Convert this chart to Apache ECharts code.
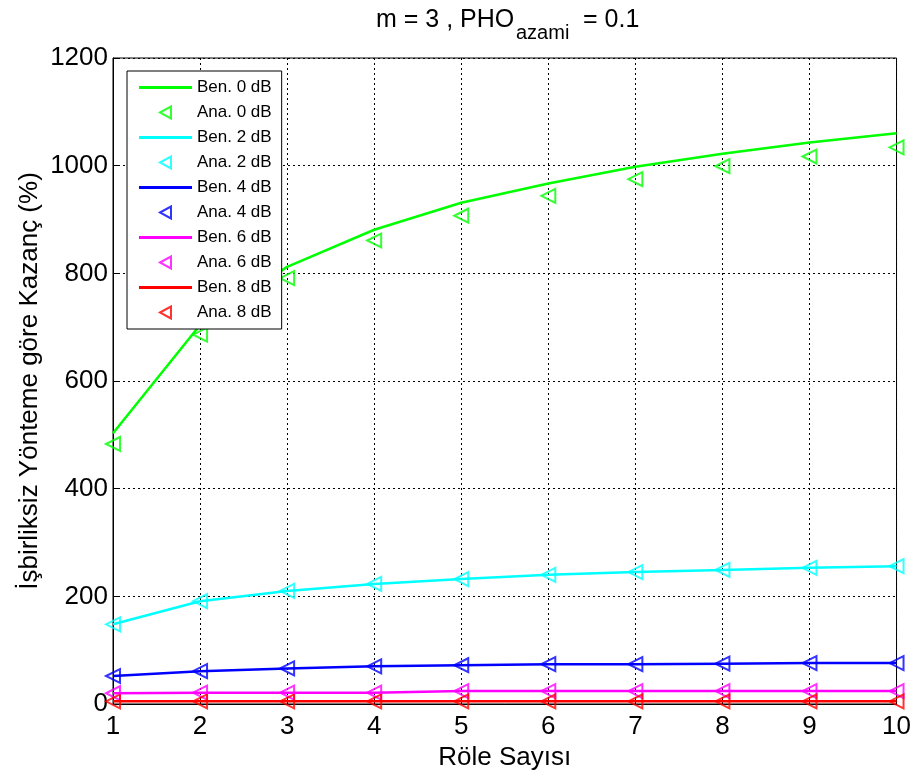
<!DOCTYPE html>
<html lang="en">
<head>
    <meta charset="UTF-8">
    <title>m = 3, PHO azami = 0.1</title>
    <script src="https://cdn.jsdelivr.net/npm/echarts@6/dist/echarts.min.js"></script>
</head>
<body style="margin: 0">
<div id="chart" style="width: 914px;height: 780px"></div>
</body>

<script>
    // x = number of relays
    let relays = [1, 2, 3, 4, 5, 6, 7, 8, 9, 10];
    let yTicks = [0, 200, 400, 600, 800, 1000, 1200];

    // simulation (Ben.) and analysis (Ana.) per SNR
    let ben0 = [503, 704, 812, 881, 931, 967, 998, 1022, 1043, 1060];
    let ana0 = [483, 686, 791, 861, 907, 944, 975, 999, 1017, 1034];
    let ben2 = [148, 191, 210, 223, 232, 240, 245, 249, 253, 256];
    let ana2 = [148, 191, 210, 223, 232, 240, 245, 249, 253, 256];
    let ben4 = [52, 61, 66, 70, 72, 74, 74, 75, 76, 76];
    let ana4 = [52, 61, 66, 70, 72, 74, 74, 75, 76, 76];
    let ben6 = [20, 21, 21, 21, 24, 24, 24, 24, 24, 24];
    let ana6 = [20, 21, 21, 21, 24, 24, 24, 24, 24, 24];
    let ben8 = [5, 5, 5, 5, 5, 5, 5, 5, 5, 5];
    let ana8 = [5, 5, 5, 5, 5, 5, 5, 5, 5, 5];

    let groups = [
        {db: '0', ben: ben0, ana: ana0, color: '#00ff00'},
        {db: '2', ben: ben2, ana: ana2, color: '#00ffff'},
        {db: '4', ben: ben4, ana: ana4, color: '#0000ff'},
        {db: '6', ben: ben6, ana: ana6, color: '#ff00ff'},
        {db: '8', ben: ben8, ana: ana8, color: '#ff0000'}
    ];

    let font = 'Liberation Sans, Arial, sans-serif';
    let lineIcon = 'path://M0,0 L53,0 L53,3 L0,3 Z';
    let triIcon = 'path://M0,6 L11,0 L11,12 Z';
    let series = [];
    let legendData = [];
    for (const g of groups) {
        series.push({
            name: 'Ben. ' + g.db + ' dB',
            type: 'line',
            symbol: 'none',
            color: g.color,
            itemStyle: {color: g.color},
            lineStyle: {color: g.color, width: 2.5},
            data: relays.map((x, i) => [x, g.ben[i]])
        });
        legendData.push({name: 'Ben. ' + g.db + ' dB', icon: lineIcon});
        series.push({
            name: 'Ana. ' + g.db + ' dB',
            type: 'scatter',
            symbol: 'triangle',
            symbolSize: 14,
            symbolRotate: 90,
            color: g.color,
            itemStyle: {color: 'rgba(255,255,255,0)', borderColor: g.color, borderWidth: 2},
            data: relays.map((x, i) => [x, g.ana[i]])
        });
        legendData.push({name: 'Ana. ' + g.db + ' dB', icon: triIcon});
    }

    // title split in three pieces so that "azami" sits as a subscript
    let titleStyle = {fontFamily: font, fontSize: 25, fontWeight: 'normal', color: '#000'};
    let subStyle = {fontFamily: font, fontSize: 20, fontWeight: 'normal', color: '#000'};

    let chart = echarts.init(document.getElementById('chart'));
    chart.setOption({
        backgroundColor: '#fff',
        animation: false,
        textStyle: {fontFamily: font},
        title: [
            {text: 'm = 3 , PHO', left: 376, top: 8, padding: 0, textStyle: titleStyle},
            {text: 'azami', left: 516, top: 23, padding: 0, textStyle: subStyle},
            {text: '= 0.1', left: 583, top: 8, padding: 0, textStyle: titleStyle}
        ],
        legend: {
            orient: 'vertical',
            left: 127,
            top: 71,
            padding: [8, 10, 8, 12],
            itemWidth: 53,
            itemHeight: 12,
            itemGap: 8,
            symbolRotate: 0,
            backgroundColor: '#fff',
            borderColor: '#000',
            borderWidth: 1,
            textStyle: {fontFamily: font, fontSize: 17, color: '#000', lineHeight: 17},
            data: legendData
        },
        grid: {
            left: 113, right: 16, top: 58, bottom: 76,
            show: true, borderColor: '#000', borderWidth: 1
        },
        xAxis: {
            type: 'value',
            min: 1, max: 10, interval: 1,
            name: 'Röle Sayısı',
            nameLocation: 'middle',
            nameGap: 40,
            nameTextStyle: {fontFamily: font, fontSize: 26, color: '#000'},
            axisLine: {lineStyle: {color: '#000'}},
            axisTick: {inside: true, length: 7, lineStyle: {color: '#000'}},
            axisLabel: {fontFamily: font, fontSize: 26, color: '#000', margin: 10},
            splitLine: {show: true, lineStyle: {color: '#000', type: [2, 3], width: 1}}
        },
        yAxis: {
            type: 'value',
            min: yTicks[0], max: yTicks[yTicks.length - 1], interval: 200,
            name: 'İşbirliksiz Yönteme göre Kazanç (%)',
            nameLocation: 'middle',
            nameGap: 70,
            nameMoveOverlap: false,
            nameTextStyle: {fontFamily: font, fontSize: 26, color: '#000'},
            axisLine: {show: true, lineStyle: {color: '#000'}},
            axisTick: {show: true, inside: true, length: 7, lineStyle: {color: '#000'}},
            axisLabel: {fontFamily: font, fontSize: 26, color: '#000', margin: 5,
                formatter: v => String(v)},
            splitLine: {show: true, lineStyle: {color: '#000', type: [2, 3], width: 1}}
        },
        series: series
    });
</script>

</html>
